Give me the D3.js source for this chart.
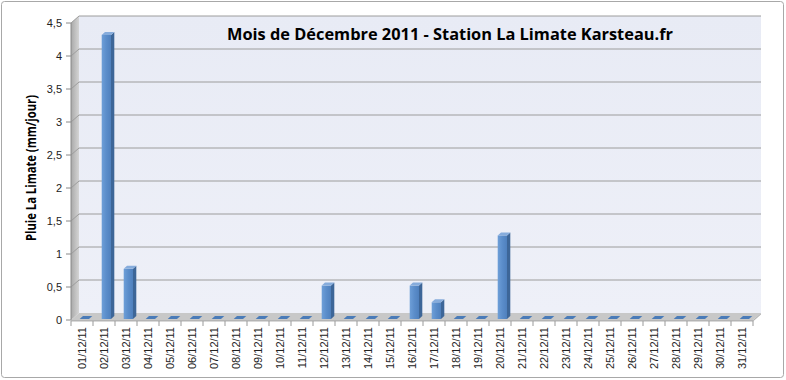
<!DOCTYPE html>
<html><head><meta charset="utf-8">
<script src="https://cdn.jsdelivr.net/npm/d3@7"></script>
<style>body{margin:0;background:#fff}</style></head><body>
<svg id="c" width="786" height="380"></svg>
<script>
const categories = ["01/12/11","02/12/11","03/12/11","04/12/11","05/12/11","06/12/11","07/12/11","08/12/11","09/12/11","10/12/11","11/12/11","12/12/11","13/12/11","14/12/11","15/12/11","16/12/11","17/12/11","18/12/11","19/12/11","20/12/11","21/12/11","22/12/11","23/12/11","24/12/11","25/12/11","26/12/11","27/12/11","28/12/11","29/12/11","30/12/11","31/12/11"];
const values = [0,4.318,0.762,0,0,0,0,0,0,0,0,0.508,0,0,0,0.508,0.254,0,0,1.27,0,0,0,0,0,0,0,0,0,0,0];
const yTicks = [0,0.5,1,1.5,2,2.5,3,3.5,4,4.5];
const yTickLabels = ["0","0,5","1","1,5","2","2,5","3","3,5","4","4,5"];
const chartTitle = "Mois de Décembre 2011 - Station La Limate Karsteau.fr";
const yTitle = "Pluie La Limate (mm/jour)";

const svg = d3.select("#c");
const defs = svg.append("defs");
const DX = 8, DY = -7;
const x = d3.scaleBand().domain(categories).range([71, 753]).paddingInner(0).paddingOuter(0);
const yF = d3.scaleLinear().domain([0, 4.5]).range([320, 23]);
const yBar = d3.scaleLinear().domain([0, 4.5]).range([319, 319 - 4.5 * 65.8]);

// gradients
const gSide = defs.append("linearGradient").attr("id","gside").attr("x1",0).attr("x2",1).attr("y1",0).attr("y2",0);
gSide.append("stop").attr("offset",0).attr("stop-color","#a9a9a9");
gSide.append("stop").attr("offset",1).attr("stop-color","#d4d4d4");
const gWall = defs.append("linearGradient").attr("id","gwall").attr("x1",0).attr("x2",0).attr("y1",0).attr("y2",1);
gWall.append("stop").attr("offset",0).attr("stop-color","#e8ebf5");
gWall.append("stop").attr("offset",1).attr("stop-color","#eef0f8");
const gFront = defs.append("linearGradient").attr("id","gfront").attr("x1",0).attr("x2",1).attr("y1",0).attr("y2",0);
gFront.append("stop").attr("offset",0).attr("stop-color","#6e9fd8");
gFront.append("stop").attr("offset",0.5).attr("stop-color","#5b8dca");
gFront.append("stop").attr("offset",1).attr("stop-color","#4f80bd");

// outer border
svg.append("rect").attr("x",1.5).attr("y",1.5).attr("width",782).attr("height",376).attr("rx",3)
  .attr("fill","#fff").attr("stroke","#a8a8a8").attr("stroke-width",1);

const x0 = x.range()[0], x1 = x.range()[1];
const yMax = 4.5;
// back wall
svg.append("rect").attr("x",x0+DX).attr("y",yF(yMax)+DY).attr("width",x1-x0).attr("height",yF(0)-yF(yMax))
  .attr("fill","url(#gwall)");
// side wall
svg.append("polygon").attr("points",[[x0,yF(yMax)],[x0+DX,yF(yMax)+DY],[x0+DX,yF(0)+DY],[x0,yF(0)]].join(" "))
  .attr("fill","url(#gside)");
// gridlines
yTicks.forEach(t=>{
  if (t===0) return;
  svg.append("line").attr("x1",x0+DX).attr("x2",x1+DX).attr("y1",yF(t)+DY).attr("y2",yF(t)+DY)
    .attr("stroke","#9c9c9c").attr("stroke-width",1);
  svg.append("line").attr("x1",x0).attr("x2",x0+DX).attr("y1",yF(t)).attr("y2",yF(t)+DY)
    .attr("stroke","#9c9c9c").attr("stroke-width",1);
});
// floor
svg.append("polygon").attr("points",[[x0,yF(0)],[x1,yF(0)],[x1+DX,yF(0)+DY],[x0+DX,yF(0)+DY]].join(" "))
  .attr("fill","#c8c8c8");
svg.append("polygon").attr("points",[[x0,yF(0)],[x1,yF(0)],[x1+DX,yF(0)+DY],[x1+DX,yF(0)+DY+1.5],[x1,yF(0)+1.5],[x0,yF(0)+1.5]].join(" "))
  .attr("fill","#b4b4b4");

// bars
const bx0 = -2.3, bw = 9.3, bdx = 3.3, bdy = -3;
const bars = svg.append("g").selectAll("g").data(values.map((v,i)=>({v, c: categories[i]}))).join("g");
bars.each(function(d){
  const g = d3.select(this);
  const cx = x(d.c) + x.bandwidth()/2;
  const L = cx + bx0, R = L + bw;
  const yt = yBar(d.v), yb = yBar(0);
  if (d.v > 0) {
    g.append("rect").attr("x",L).attr("y",yt).attr("width",bw).attr("height",yb-yt).attr("fill","url(#gfront)");
    g.append("polygon").attr("points",[[R,yt],[R+bdx,yt+bdy],[R+bdx,yb+bdy],[R,yb]].join(" ")).attr("fill","#3d6698");
  }
  g.append("polygon").attr("points",[[L,yt],[R,yt],[R+bdx,yt+bdy],[L+bdx,yt+bdy]].join(" "))
    .attr("fill", d.v > 0 ? "#86acdc" : "#4a7bb8");
});

// y axis line & ticks
svg.append("line").attr("x1",x0).attr("x2",x0).attr("y1",yF(yMax)).attr("y2",yF(0)).attr("stroke","#888");
yTicks.forEach((t,i)=>{
  svg.append("line").attr("x1",x0-5).attr("x2",x0).attr("y1",yF(t)).attr("y2",yF(t)).attr("stroke","#888");
  svg.append("text").attr("x",x0-9).attr("y",yF(t)).attr("dy","0.35em").attr("text-anchor","end")
    .attr("font-family","Liberation Sans, Arial, sans-serif").attr("font-size",11).attr("fill","#222")
    .text(yTickLabels[i]);
});
// x axis ticks
d3.range(categories.length+1).forEach(i=>{
  const xx = x0 + i * x.step();
  svg.append("line").attr("x1",xx).attr("x2",xx).attr("y1",yF(0)+1).attr("y2",yF(0)+6).attr("stroke","#999");
});
// x labels
categories.forEach(c=>{
  const cx = x(c) + x.bandwidth()/2;
  svg.append("text").attr("transform",`translate(${cx},327) rotate(-90)`).attr("dy","0.35em")
    .attr("text-anchor","end").attr("font-family","Liberation Sans, Arial, sans-serif").attr("font-size",11)
    .attr("fill","#222").text(c);
});

// title
function fit(sel, target){
  let s = +sel.attr("font-size");
  const w = sel.node().getComputedTextLength();
  sel.attr("font-size", (s * target / w).toFixed(2));
}
const tt = svg.append("text").attr("x",450).attr("y",40).attr("text-anchor","middle")
  .attr("font-family","Open Sans, Lato, sans-serif").attr("font-weight","bold").attr("font-size",18)
  .attr("fill","#000").text(chartTitle);
fit(tt, 446);
svg.append("text").attr("transform","translate(31,168) rotate(-90)").attr("dy","0.35em")
  .attr("text-anchor","middle").attr("font-family","Open Sans, Lato, sans-serif").attr("font-weight","bold")
  .attr("font-size",14.5).attr("textLength",146).attr("lengthAdjust","spacingAndGlyphs")
  .attr("fill","#000").text(yTitle);
</script>
</body></html>
